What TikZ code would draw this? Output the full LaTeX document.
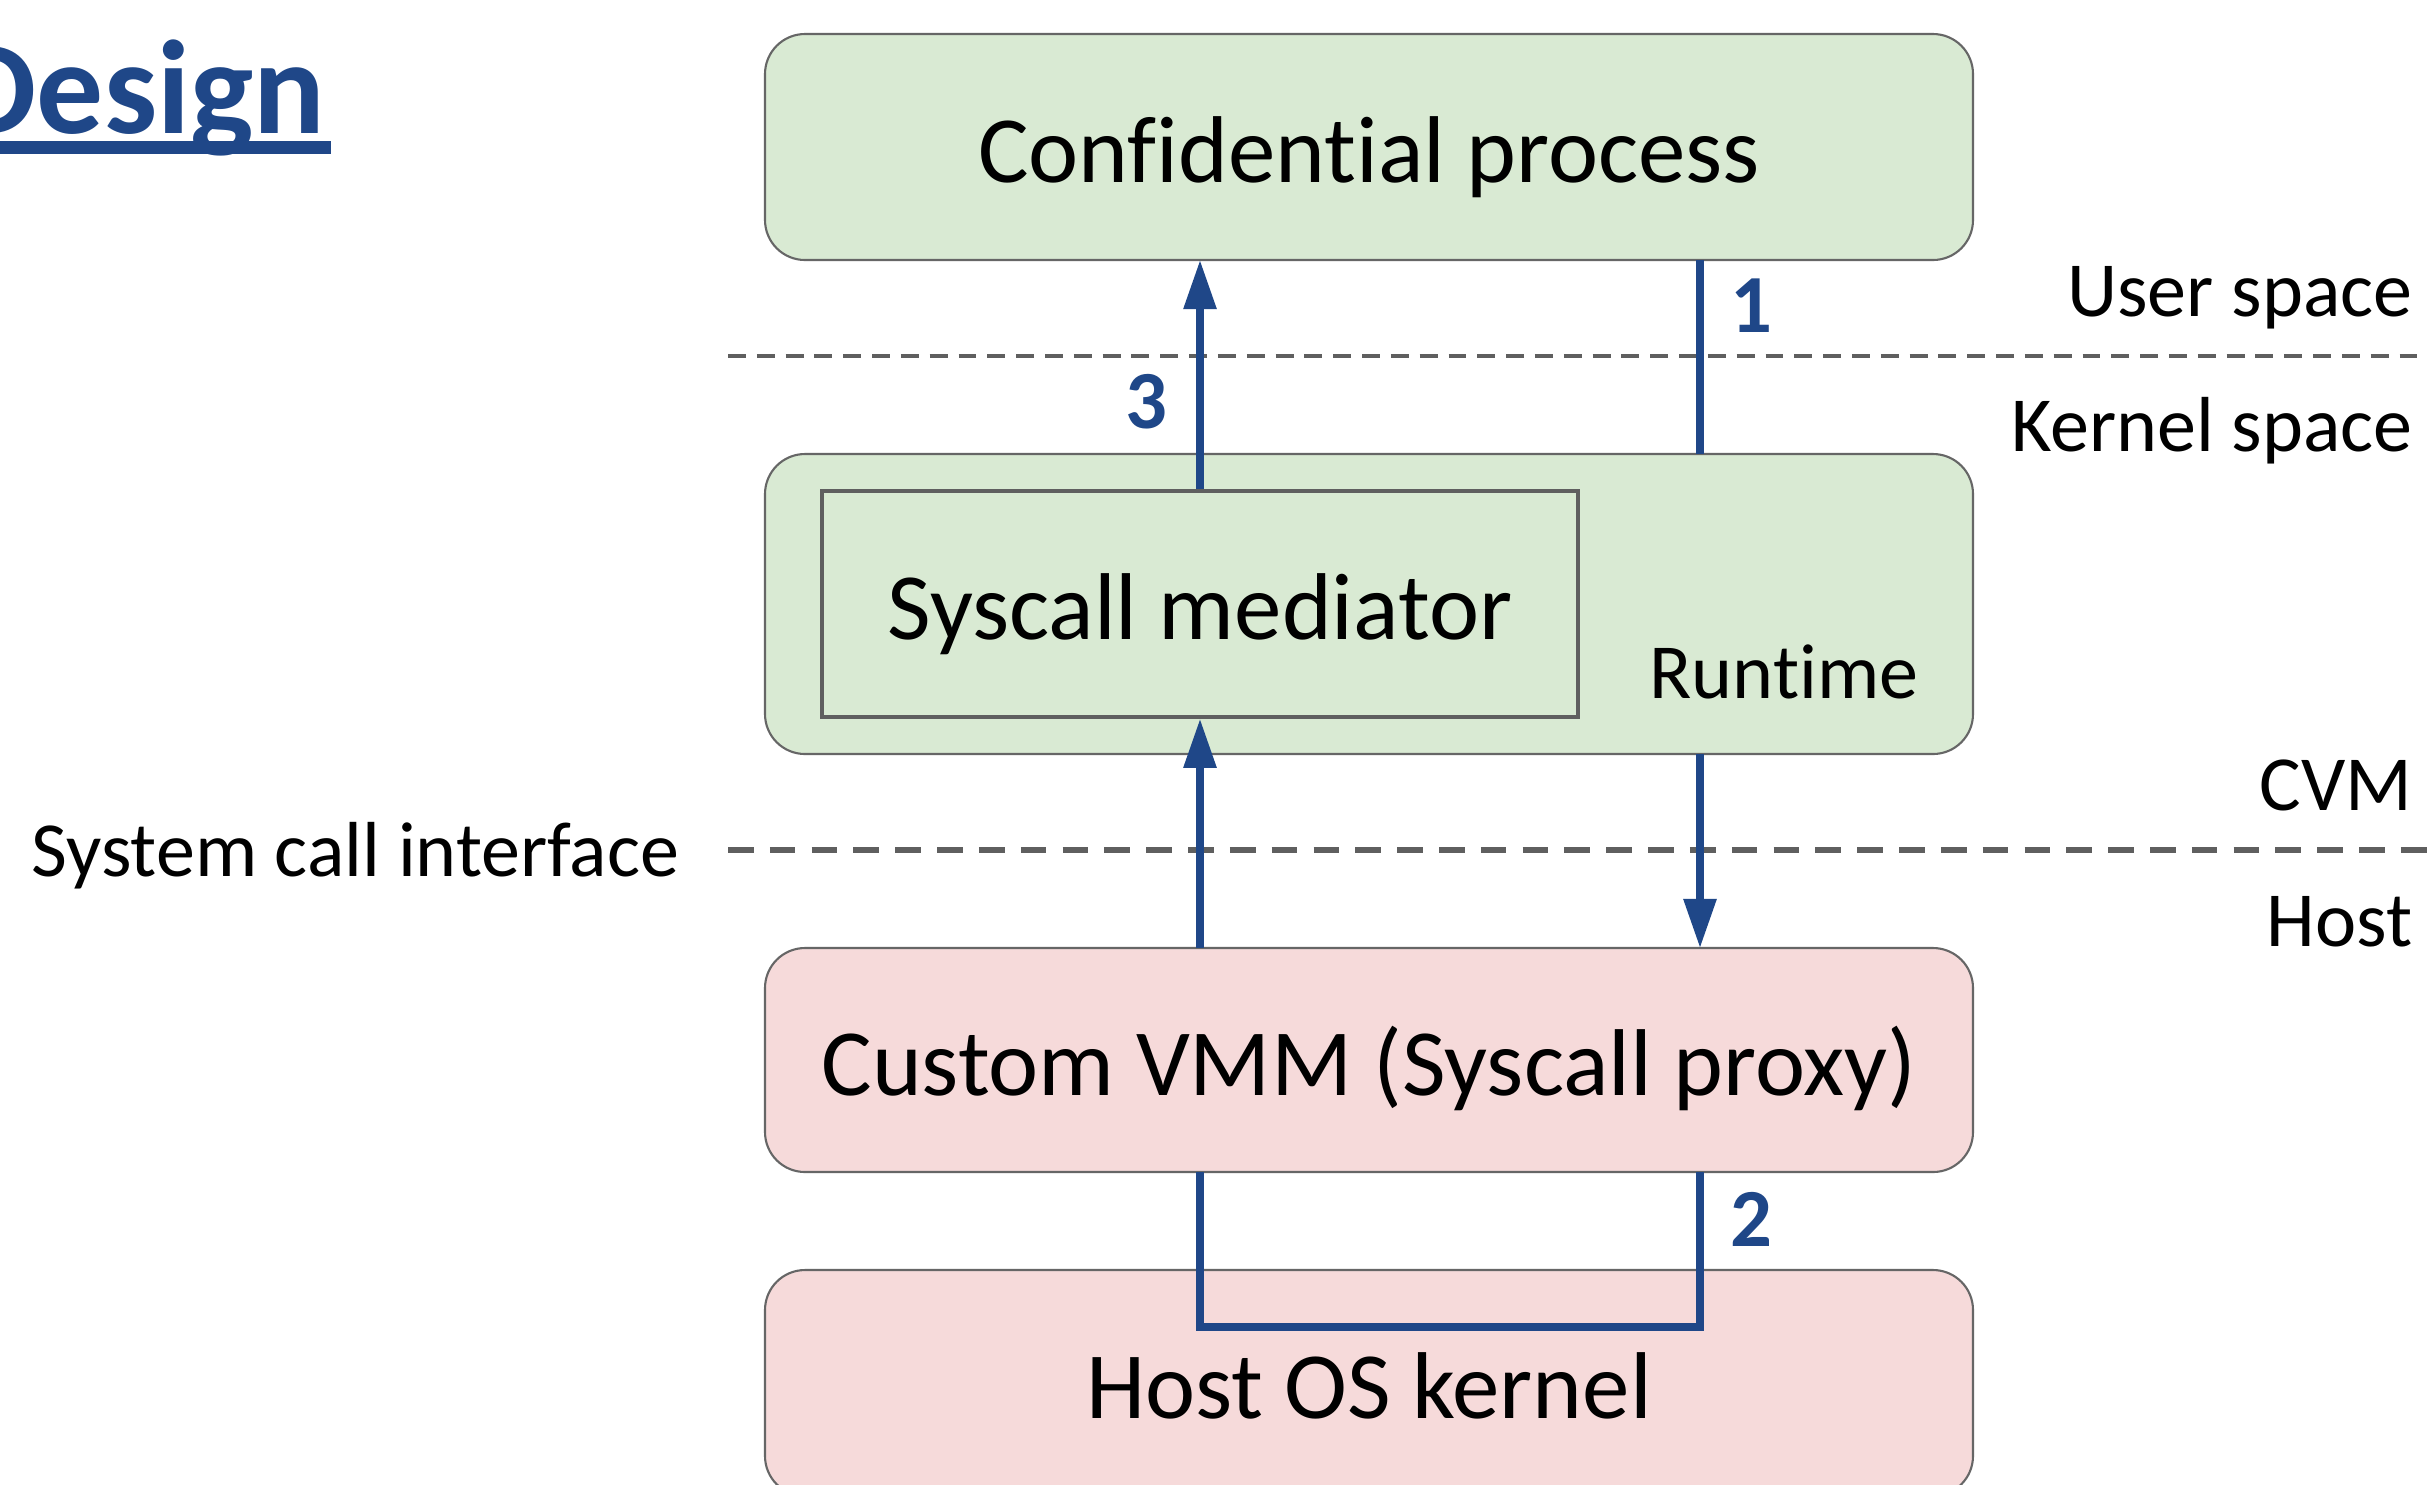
\documentclass[tikz,border=0pt]{standalone}
\usepackage{fontspec}
\setmainfont[Ligatures={NoCommon,NoContextual,NoRequired,NoRare}]{Carlito}
\usetikzlibrary{arrows.meta}
\definecolor{boxgreen}{HTML}{D9EAD3}
\definecolor{boxpink}{HTML}{F6DADA}
\definecolor{flowblue}{HTML}{1F4788}
\definecolor{edgegray}{HTML}{666666}
\definecolor{dashgray}{HTML}{5F5F5F}
\tikzset{
  bigbox/.style={draw=edgegray, line width=0.6pt, rounded corners=4mm, minimum width=120.8mm, inner sep=0pt, text height=20pt, text depth=0pt, font=\fontsize{27}{32}\selectfont},
  greenbox/.style={bigbox, fill=boxgreen},
  pinkbox/.style={bigbox, fill=boxpink},
  medbox/.style={draw=dashgray, line width=1pt, fill=boxgreen, minimum width=75.6mm, minimum height=22.6mm, inner sep=0pt, text height=20pt, text depth=0pt, font=\fontsize{27}{32}\selectfont},
  sidelabel/.style={inner sep=0pt, font=\fontsize{22.2}{26}\selectfont},
  numlabel/.style={inner sep=0pt, text=flowblue, font=\fontsize{23.5}{28}\selectfont\bfseries},
  flow/.style={draw=flowblue, line width=2.1pt},
  flowarrow/.style={flow, -{Triangle[length=14pt, width=9pt]}},
  thindash/.style={draw=dashgray, line width=1pt, dash pattern=on 5.1pt off 3.1pt},
  thickdash/.style={draw=dashgray, line width=1.8pt, dash pattern=on 7.3pt off 4.6pt},
}
\begin{document}
\begin{tikzpicture}[x=0.1mm, y=-0.1mm]
\useasboundingbox (0,0) rectangle (2428,1484);
\clip (0,0) rectangle (2428,1484);
\fill[white] (0,0) rectangle (2428,1484);

% title
\node[anchor=base east, inner sep=0pt, text=flowblue, font=\fontsize{38}{45}\selectfont\bfseries] (title) at (326,133) {Design};
\coordinate (ulA) at (-10,147);
\coordinate (ulB) at (331,147);
\draw[flowblue, line width=3.7pt] (ulA) -- (ulB);

% dashed separators
\coordinate (d1a) at (728,356);
\coordinate (d1b) at (2440,356);
\coordinate (d2a) at (728,850);
\coordinate (d2b) at (2440,850);
\draw[thindash] (d1a) -- (d1b);
\draw[thickdash] (d2a) -- (d2b);

% boxes
\node[greenbox, minimum height=22.6mm] (conf) at (1369,147) {Confi\kern0pt dential process};
\node[greenbox, minimum height=30mm] (runtime) at (1369,604) {};
\node[medbox] (med) at (1200,604) {Syscall mediator};
\node[anchor=base, sidelabel] (rtlabel) at (1784,698) {Runt\kern0pt ime};
\node[pinkbox, minimum height=22.4mm] (vmm) at (1369,1060) {Custom VMM (Syscall proxy)};
\node[pinkbox, minimum height=22.6mm] (host) at (1369,1383) {Host OS kernel};

% side labels
\node[anchor=base east, sidelabel] (user) at (2413,316) {User space};
\node[anchor=base east, sidelabel] (kern) at (2413,451) {Kernel space};
\node[anchor=base east, sidelabel] (cvm) at (2413,810) {CVM};
\node[anchor=base east, sidelabel] (hostl) at (2413,946) {Host};
\node[anchor=base west, sidelabel] (sci) at (31,876) {System call interface};

% flow coordinates
\coordinate (c3top) at (1200,260);
\coordinate (c1top) at (1700,260);
\coordinate (c1bot) at (1700,454);
\coordinate (crtb) at (1700,754);
\coordinate (cvmmr) at (1700,948);
\coordinate (cvmml) at (1200,948);
\coordinate (cvmmbr) at (1700,1172);
\coordinate (cvmmbl) at (1200,1172);
\coordinate (cloopr) at (1700,1327);
\coordinate (cloopl) at (1200,1327);

% connectors
\draw[flowarrow] (med.north) -- (c3top);
\draw[flow] (c1top) -- (c1bot);
\draw[flowarrow] (cvmml) -- (med.south);
\draw[flowarrow] (crtb) -- (cvmmr);
\draw[flow, line join=miter] (cvmmbr) -- (cloopr) -- (cloopl) -- (cvmmbl);

% numbers
\node[anchor=base, numlabel] (n1) at (1751,332) {1};
\node[anchor=base, numlabel] (n3) at (1146,428) {3};
\node[anchor=base, numlabel] (n2) at (1751,1246) {2};
\end{tikzpicture}
\end{document}
